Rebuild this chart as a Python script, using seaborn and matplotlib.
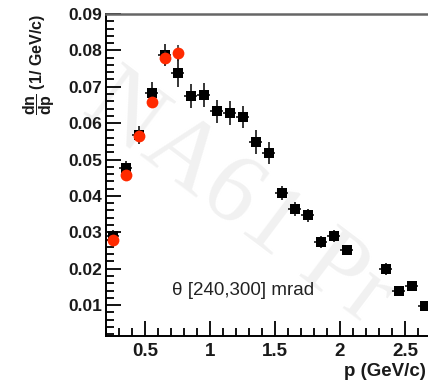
import numpy as np
import pandas as pd
import matplotlib
matplotlib.use("Agg")
import matplotlib.pyplot as plt
import seaborn as sns
from matplotlib.ticker import MultipleLocator

# momentum bins (GeV/c) and dn/dp values
p_black = [0.25, 0.35, 0.45, 0.55, 0.65, 0.75, 0.85, 0.95, 1.05, 1.15, 1.25,
           1.35, 1.45, 1.55, 1.65, 1.75, 1.85, 1.95, 2.05, 2.35, 2.45, 2.55, 2.65]
dndp_black = [0.0290, 0.0477, 0.0567, 0.0683, 0.0787, 0.0738, 0.0675, 0.0677,
              0.0633, 0.0628, 0.0617, 0.0548, 0.0518, 0.0408, 0.0364, 0.0347,
              0.0273, 0.0290, 0.0251, 0.0199, 0.0138, 0.0152, 0.0097]
err_black = [0.0015, 0.0020, 0.0025, 0.0030, 0.0030, 0.0038, 0.0032, 0.0032,
             0.0032, 0.0032, 0.0030, 0.0032, 0.0030, 0.0020, 0.0018, 0.0018,
             0.0017, 0.0017, 0.0005, 0.0016, 0.0010, 0.0012, 0.0008]

p_red = [0.25, 0.35, 0.45, 0.55, 0.65, 0.75]
dndp_red = [0.0279, 0.0457, 0.0565, 0.0658, 0.0779, 0.0793]
err_red = [0.0010, 0.0012, 0.0015, 0.0015, 0.0018, 0.0022]

bin_half = 0.05

sns.set_theme(style="ticks")
plt.rcParams["font.family"] = ["Liberation Sans", "DejaVu Sans"]
plt.rcParams["mathtext.fontset"] = "custom"
plt.rcParams["mathtext.rm"] = "Liberation Sans:bold"
plt.rcParams["mathtext.it"] = "Liberation Sans:bold"
plt.rcParams["mathtext.bf"] = "Liberation Sans:bold"

fig = plt.figure(figsize=(4.28, 3.87), dpi=100)
fig.patch.set_facecolor("white")
ax = fig.add_axes([106 / 428, 51 / 387, 322 / 428, 322 / 387])
ax.set_facecolor("none")

# faint watermark behind the data
ax.text(95 / 428, 1 - 92 / 387, "NA61 Pr", transform=fig.transFigure,
        fontsize=72, family="Liberation Serif", color="#f1f1f1",
        rotation=-37, rotation_mode="anchor", ha="left", va="center",
        zorder=0.5, clip_on=False)

black = pd.DataFrame({"p": p_black, "dndp": dndp_black})
red = pd.DataFrame({"p": p_red, "dndp": dndp_red})

ax.errorbar(p_black, dndp_black, yerr=err_black, xerr=bin_half, fmt="none",
            ecolor="black", elinewidth=1.1, capsize=0, zorder=2)
sns.scatterplot(data=black, x="p", y="dndp", marker="s", s=62, color="black",
                edgecolor="black", linewidth=0, ax=ax, zorder=3)
ax.errorbar(p_red, dndp_red, yerr=err_red, fmt="none",
            ecolor="#222222", elinewidth=1.1, capsize=0, zorder=4)
sns.scatterplot(data=red, x="p", y="dndp", marker="o", s=72, color="#ff2a00",
                edgecolor="#ff2a00", linewidth=0, ax=ax, zorder=5)

ax.set_xlim(0.2, 0.2 + 322 / 130)
ax.set_ylim(0.0015, 0.09)

ax.xaxis.set_minor_locator(MultipleLocator(0.1))
ax.yaxis.set_minor_locator(MultipleLocator(0.002))
ax.set_xticks([0.5, 1.0, 1.5, 2.0, 2.5])
ax.set_xticklabels(["0.5", "1", "1.5", "2", "2.5"])
ax.set_yticks([0.01, 0.02, 0.03, 0.04, 0.05, 0.06, 0.07, 0.08, 0.09])
ax.set_yticklabels(["0.01", "0.02", "0.03", "0.04", "0.05", "0.06", "0.07",
                    "0.08", "0.09"])

ax.tick_params(axis="both", which="major", direction="in", length=11,
               width=1.3, color="black", pad=3)
ax.tick_params(axis="both", which="minor", direction="in", length=5.5,
               width=1.3, color="black")
ax.tick_params(axis="x", which="major", pad=5, labelsize=13.5)
ax.tick_params(axis="y", which="major", labelsize=12.5)
for lab in ax.get_xticklabels() + ax.get_yticklabels():
    lab.set_fontweight("bold")
    lab.set_color("#1a1a1a")

for side in ["left", "bottom"]:
    ax.spines[side].set_linewidth(1.4)
    ax.spines[side].set_color("black")
ax.spines["top"].set_linewidth(1.8)
ax.spines["top"].set_color("#666666")
ax.spines["right"].set_visible(False)

ax.set_xlabel("")
fig.text(426 / 428, 1 - 371 / 387, "p (GeV/c)", fontsize=13.5,
         fontweight="bold", ha="right", va="center", color="#1a1a1a")
ax.set_ylabel(r"$\dfrac{\mathbf{dn}}{\mathbf{dp}}$ (1/ GeV/c)", fontsize=11.5,
              fontweight="bold", loc="top", labelpad=8, color="#1a1a1a")

ax.text(0.705, 0.0141, "\u03b8 [240,300] mrad", fontsize=13.5,
        color="#222222", ha="left", va="center", zorder=6)

fig.savefig("out.png", dpi=100)
